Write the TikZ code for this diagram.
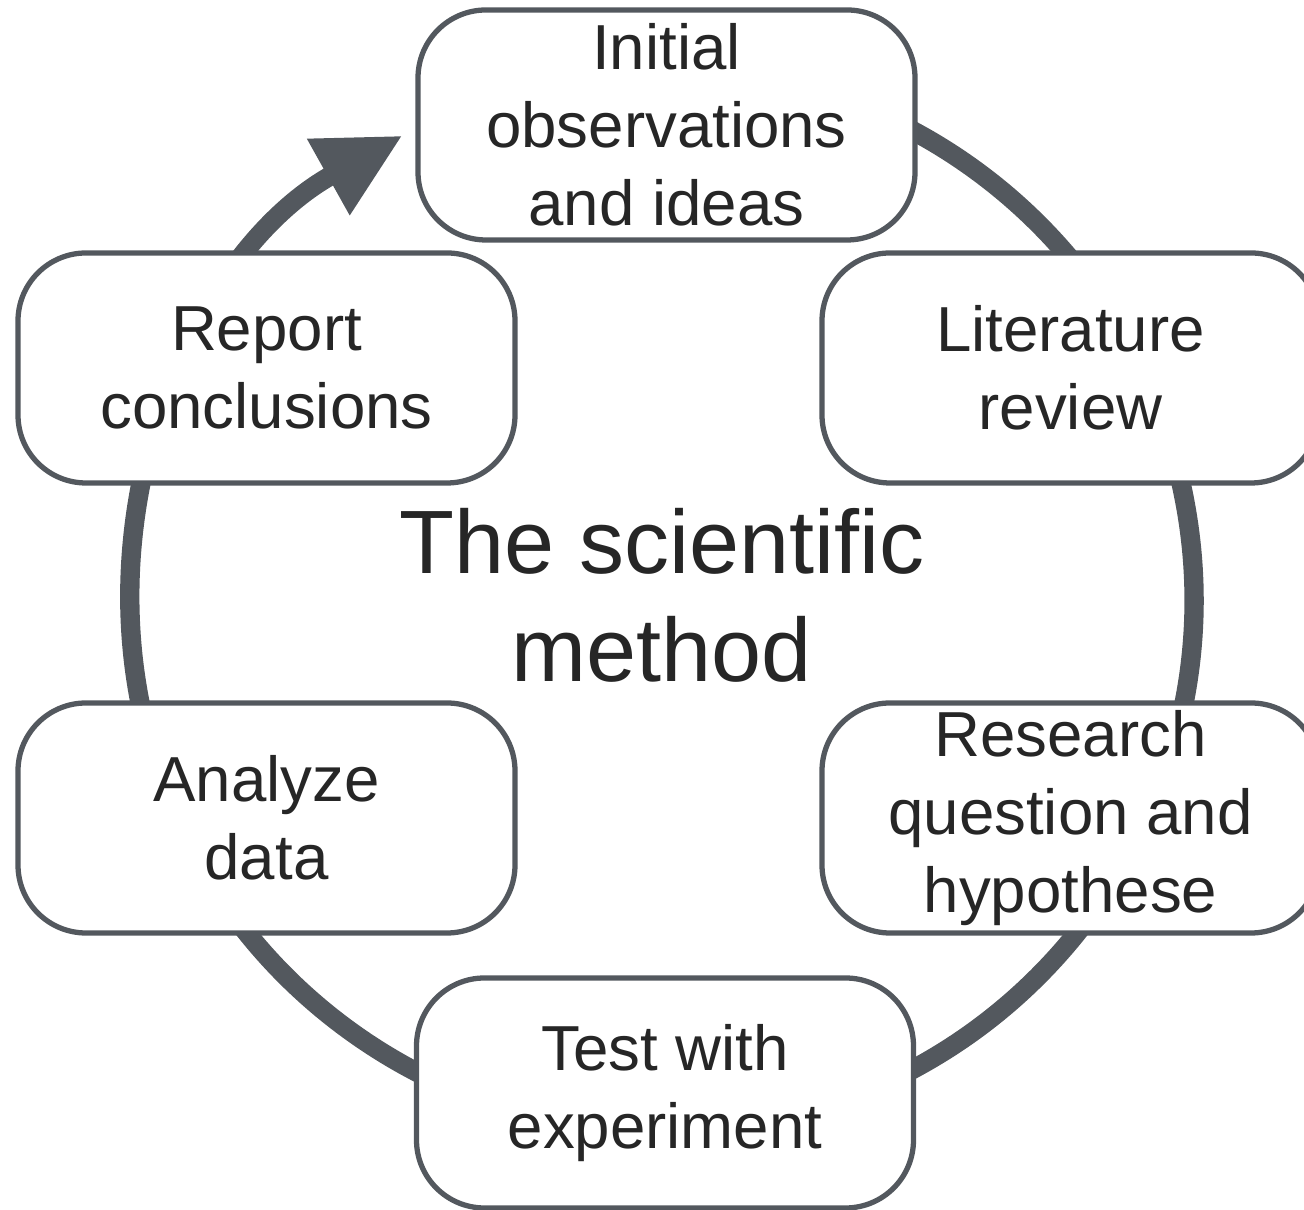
\documentclass[tikz,border=0pt]{standalone}
\usepackage{fontspec}
\setmainfont{Liberation Sans}
\usetikzlibrary{arrows.meta}

\definecolor{ringgray}{HTML}{53585E}
\definecolor{textgray}{HTML}{262626}

\tikzset{
	stepbox/.style={draw=ringgray, line width=1.5pt, fill=white,
		rounded corners=0.68cm, minimum width=4.97cm, minimum height=2.30cm,
		inner sep=0pt, align=center, text=textgray,
		font=\fontsize{18.1}{22.2}\selectfont},
	cycleline/.style={draw=ringgray, line width=5.5pt}
}

\begin{document}
\begin{tikzpicture}
		%%%%% START %%%%%
		\useasboundingbox (0, 0) rectangle (13.04, 12.10);
		
		% the cycle, ending in the big arrow head
		\coordinate (mid) at (6.62, 6.10);
		\draw[cycleline, -{Triangle[length=0.85cm, width=0.82cm]}] (mid) ++(460:5.32) arc (460:119.2:5.32);
		
		\node[font=\fontsize{25.6}{30.7}\selectfont, text=textgray, align=center] (title) at (6.62, 6.145) {The scientific\\method};
		
		% the six steps
		\node[stepbox] (observe) at (6.665, 10.85) {Initial\\observations\\and ideas};
		\node[stepbox] (review) at (10.705, 8.42) {Literature\\review};
		\node[stepbox] (question) at (10.705, 3.92) {Research\\question and\\hypothese};
		\node[stepbox] (test) at (6.65, 1.17) {Test with\\experiment};
		\node[stepbox] (analyze) at (2.665, 3.92) {Analyze\\data};
		\node[stepbox] (report) at (2.665, 8.42) {Report\\conclusions};
		
		%%%%% END %%%%%
\end{tikzpicture}
\end{document}
